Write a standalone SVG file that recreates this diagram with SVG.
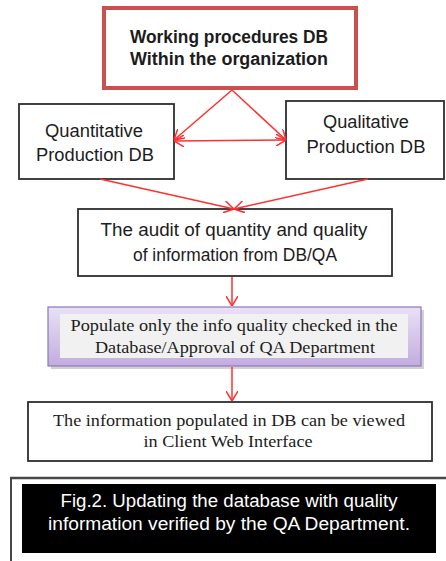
<svg xmlns="http://www.w3.org/2000/svg" width="446" height="561" viewBox="0 0 446 561">
  <style>
    .box { fill: #ffffff; stroke: #2e2e2e; stroke-width: 1.8; }
    .sans { font-family: "Liberation Sans", Arial, sans-serif; fill: #1c1c1c; }
    .serif { font-family: "Liberation Serif", "Times New Roman", serif; fill: #1c1c1c; }
    .conn { stroke: #ff3030; stroke-width: 1.5; fill: none; }
  </style>
  <defs>
    <marker id="arr" viewBox="0 0 10 12" refX="10" refY="6" markerWidth="10" markerHeight="12" markerUnits="userSpaceOnUse" orient="auto-start-reverse">
      <path d="M0,0 L10,6 L0,12" fill="none" stroke="#ff3030" stroke-width="1.5"/>
    </marker>
    <linearGradient id="purp" x1="0" y1="0" x2="0" y2="1">
      <stop offset="0" stop-color="#e9e1f4"/>
      <stop offset="1" stop-color="#c2acdf"/>
    </linearGradient>
  </defs>

  <g id="node-working">
    <rect x="104" y="8" width="252" height="80" fill="#ffffff" stroke="#c9504f" stroke-width="4"/>
    <text class="sans" x="229" y="43" font-size="18" font-weight="bold" text-anchor="middle" textLength="198" lengthAdjust="spacingAndGlyphs">Working  procedures DB</text>
    <text class="sans" x="229" y="65" font-size="18" font-weight="bold" text-anchor="middle" textLength="198" lengthAdjust="spacingAndGlyphs">Within the organization</text>
  </g>

  <g id="node-quantitative">
    <rect class="box" x="19" y="104" width="155" height="75"/>
    <text class="sans" x="94" y="137" font-size="17.5" text-anchor="middle" textLength="98" lengthAdjust="spacingAndGlyphs">Quantitative</text>
    <text class="sans" x="95" y="161" font-size="17.5" text-anchor="middle" textLength="118" lengthAdjust="spacingAndGlyphs">Production DB</text>
  </g>

  <g id="node-qualitative">
    <rect class="box" x="286" y="101" width="158" height="78"/>
    <text class="sans" x="366" y="128" font-size="17.5" text-anchor="middle" textLength="86" lengthAdjust="spacingAndGlyphs">Qualitative</text>
    <text class="sans" x="366" y="153" font-size="17.5" text-anchor="middle" textLength="119" lengthAdjust="spacingAndGlyphs">Production DB</text>
  </g>

  <g id="node-audit">
    <rect class="box" x="78" y="209" width="314" height="67"/>
    <text class="sans" x="234" y="236" font-size="17.5" text-anchor="middle" textLength="267" lengthAdjust="spacingAndGlyphs">The audit of quantity and quality</text>
    <text class="sans" x="235" y="261" font-size="17.5" text-anchor="middle" textLength="204" lengthAdjust="spacingAndGlyphs">of information from DB/QA</text>
  </g>

  <g id="node-populate">
    <rect x="51" y="310" width="373" height="59" fill="#9a9a9a" opacity="0.45"/>
    <rect x="48" y="307" width="373" height="59" fill="url(#purp)" stroke="#8f76bb" stroke-width="1.2"/>
    <rect x="60" y="314" width="348" height="44" fill="#f1f1f1"/>
    <text class="serif" x="234" y="331" font-size="17" text-anchor="middle" textLength="327" lengthAdjust="spacingAndGlyphs">Populate only the info quality checked in the</text>
    <text class="serif" x="235" y="353" font-size="17" text-anchor="middle" textLength="280" lengthAdjust="spacingAndGlyphs">Database/Approval  of QA Department</text>
  </g>

  <g id="node-viewed">
    <rect class="box" x="28" y="402" width="404" height="59"/>
    <text class="serif" x="229" y="426" font-size="17.5" text-anchor="middle" textLength="352" lengthAdjust="spacingAndGlyphs">The information populated in DB can be viewed</text>
    <text class="serif" x="228" y="447" font-size="17.5" text-anchor="middle" textLength="169" lengthAdjust="spacingAndGlyphs">in Client Web Interface</text>
  </g>

  <g id="connectors">
    <line class="conn" x1="232" y1="90" x2="174" y2="140" marker-end="url(#arr)"/>
    <line class="conn" x1="232" y1="90" x2="286" y2="140" marker-end="url(#arr)"/>
    <line class="conn" x1="174" y1="141" x2="286" y2="140" marker-start="url(#arr)" marker-end="url(#arr)"/>
    <line class="conn" x1="100" y1="179" x2="234" y2="209" marker-end="url(#arr)"/>
    <line class="conn" x1="368" y1="179" x2="234" y2="209" marker-end="url(#arr)"/>
    <line class="conn" x1="232" y1="277" x2="232" y2="306" marker-end="url(#arr)"/>
    <line class="conn" x1="232" y1="367" x2="232" y2="401" marker-end="url(#arr)"/>
  </g>

  <g id="caption">
    <line x1="10" y1="478" x2="446" y2="478" stroke="#474747" stroke-width="2.5"/>
    <line x1="11" y1="478" x2="11" y2="561" stroke="#474747" stroke-width="2"/>
    <rect x="22" y="484" width="414" height="69" fill="#000000"/>
    <text x="229" y="507" font-family="Liberation Sans, Arial, sans-serif" font-size="18" fill="#ffffff" text-anchor="middle" textLength="337" lengthAdjust="spacingAndGlyphs">Fig.2. Updating the database with quality</text>
    <text x="229" y="530" font-family="Liberation Sans, Arial, sans-serif" font-size="18" fill="#ffffff" text-anchor="middle" textLength="362" lengthAdjust="spacingAndGlyphs">information verified by the QA Department.</text>
  </g>
</svg>
